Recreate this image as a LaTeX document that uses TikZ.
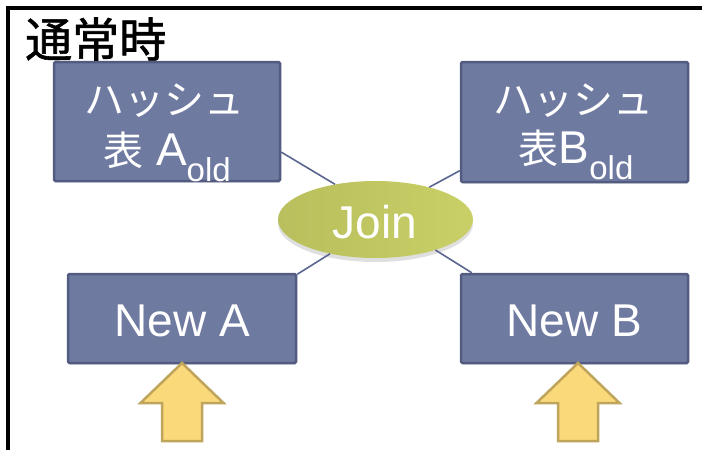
\documentclass[tikz,border=0pt]{standalone}
\usepackage{fontspec}
\setmainfont{Liberation Sans}
\newfontfamily\jp{Noto Sans CJK JP}
\newfontfamily\jpt[FakeBold=1.2]{Noto Sans CJK JP}
\usetikzlibrary{shapes.geometric,shadows}
\definecolor{boxfill}{HTML}{6F7AA1}
\definecolor{boxdraw}{HTML}{535C80}
\definecolor{linec}{HTML}{5A6590}
\definecolor{arrfill}{HTML}{FAD97B}
\definecolor{arrdraw}{HTML}{BFA45C}
\definecolor{joinL}{HTML}{B8BF5C}
\definecolor{joinR}{HTML}{CDD469}
\newcommand\jps[1]{{\jp\fontsize{40}{44}\selectfont #1}}
\newcommand\oldsub{\raisebox{-16pt}{\fontsize{33}{33}\selectfont old}}
\newcommand\yarrow[1]{%
  \draw[arrowsty] (#1,363) -- ({#1+41.5},403) -- ({#1+20},403) -- ({#1+20},441)
    -- ({#1-20},441) -- ({#1-20},403) -- ({#1-41.5},403) -- cycle;}
\begin{document}
\begin{tikzpicture}[x=1pt,y=-1pt,
  hbox/.style={draw=boxdraw, line width=2.5pt, fill=boxfill, rounded corners=1.5pt,
    inner sep=0pt, drop shadow={shadow xshift=1pt, shadow yshift=-1.5pt, opacity=0.25}},
  txt/.style={text=white, inner sep=0pt, font=\fontsize{46}{50}\selectfont},
  conn/.style={draw=linec, line width=1.6pt},
  arrowsty/.style={fill=arrfill, draw=arrdraw, line width=2.5pt, line join=miter}]
\useasboundingbox (0,0) rectangle (702,450);
\draw[line width=4pt] (7.5,452) -- (7.5,7.5) -- (704,7.5);
\node[anchor=base west, inner sep=0pt, font=\jpt\fontsize{47}{50}\selectfont] (title) at (25,57) {通常時};

\node[hbox, minimum width=226pt, minimum height=119pt] (aold) at (167,121.5) {};
\node[hbox, minimum width=227pt, minimum height=120pt] (bold) at (574.5,122) {};
\node[hbox, minimum width=228pt, minimum height=89pt] (newa) at (182,318.5) {};
\node[hbox, minimum width=227pt, minimum height=89pt] (newb) at (574.5,318.5) {};

\node[ellipse, minimum width=195pt, minimum height=77pt, inner sep=0pt,
  left color=joinL, middle color=joinR, right color=joinR!80!joinL,
  drop shadow={shadow xshift=0pt, shadow yshift=-4pt, opacity=0.25}] (join) at (375.5,219.5) {};
\draw[conn] (aold.-15) -- (join.139);
\draw[conn] (bold.-157) -- (join.31);
\draw[conn] (newa.21) -- (join.-143);
\draw[conn] (newb.156) -- (join.-27);

\node[txt, anchor=base] (aoldl1) at (164,114) {\jps{ハッシュ}};
\node[txt, anchor=base] (aoldl2) at (167,165) {\jps{表} A\oldsub};
\node[txt, anchor=base] (boldl1) at (573,114) {\jps{ハッシュ}};
\node[txt, anchor=base] (boldl2) at (576,163) {\jps{表}B\oldsub};
\node[txt, anchor=base] (newat) at (182.5,336) {New A};
\node[txt, anchor=base] (newbt) at (574.5,336) {New B};
\node[txt, anchor=base] (joint) at (375,238) {Join};

\yarrow{182}
\yarrow{578}
\end{tikzpicture}
\end{document}
